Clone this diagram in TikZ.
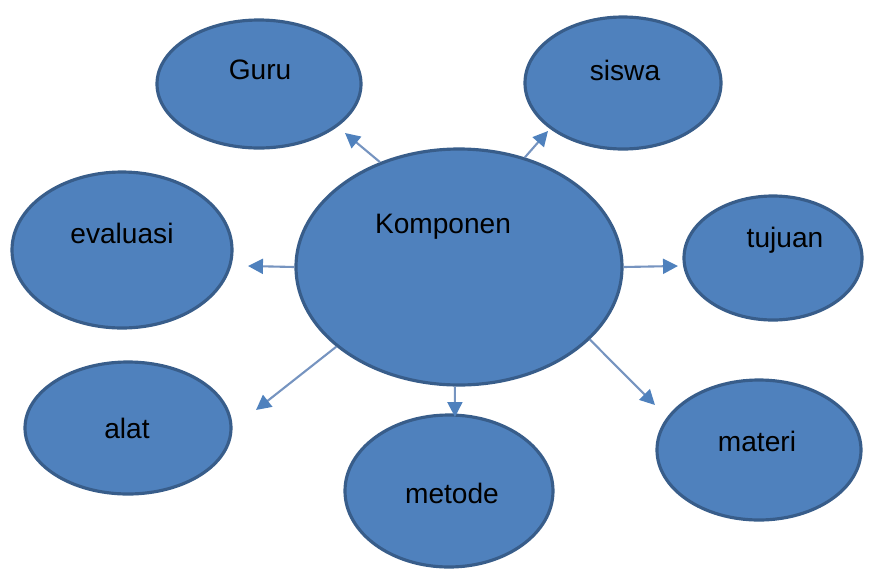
\documentclass[tikz,border=0pt]{standalone}
\usepackage{fontspec}
\setmainfont{Liberation Sans}
\usetikzlibrary{arrows.meta,shapes.geometric}

\definecolor{ovalfill}{RGB}{79,129,189}
\definecolor{ovaledge}{RGB}{56,93,138}
\definecolor{linkline}{RGB}{118,148,192}

\begin{document}
\begin{tikzpicture}[x=0.02cm, y=-0.02cm,
  oval/.style 2 args={ellipse, draw=ovaledge, fill=ovalfill, line width=1.8pt,
    inner sep=0pt, minimum width=#1*0.02cm, minimum height=#2*0.02cm},
  word/.style={font=\fontsize{16}{19}\selectfont, text=black, inner sep=0pt},
  link/.style={draw=linkline, line width=1.2pt,
    -{Triangle[length=8.5pt, width=8.5pt, color=ovalfill]}}]
  \useasboundingbox (0,0) rectangle (880,569);

  % Ovals
  \node[oval={326}{236}] (komp) at (459,267) {};
  \node[oval={204}{128}] (guru) at (259,84) {};
  \node[oval={196}{132}] (siswa) at (623,83) {};
  \node[oval={220}{156}] (evaluasi) at (122,250) {};
  \node[oval={178}{124}] (tujuan) at (773,258) {};
  \node[oval={206}{132}] (alat) at (128,428) {};
  \node[oval={208}{152}] (metode) at (449,491) {};
  \node[oval={204}{140}] (materi) at (759,450) {};

  % Labels
  \node[word] (komp-t) at (443,227) {Komponen};
  \node[word] (guru-t) at (260,70) {Guru};
  \node[word] (siswa-t) at (625,70) {siswa};
  \node[word] (evaluasi-t) at (122,233) {evaluasi};
  \node[word] (tujuan-t) at (785,240) {tujuan};
  \node[word] (alat-t) at (127,428) {alat};
  \node[word] (metode-t) at (452,493) {metode};
  \node[word] (materi-t) at (757,441) {materi};

  % Arrow tips
  \coordinate (to-guru) at (345,133);
  \coordinate (to-siswa) at (548,131);
  \coordinate (to-evaluasi) at (248,266);
  \coordinate (to-tujuan) at (678,266);
  \coordinate (to-alat) at (256,410);
  \coordinate (to-metode) at (455,417);
  \coordinate (to-materi) at (655,405);

  % Links
  \foreach \a/\t in {127/guru, 59/siswa, 180/evaluasi, 0/tujuan,
                     -147/alat, -92/metode, -29/materi} {
    \draw[link] (komp.\a) -- (to-\t);
  }
\end{tikzpicture}
\end{document}
